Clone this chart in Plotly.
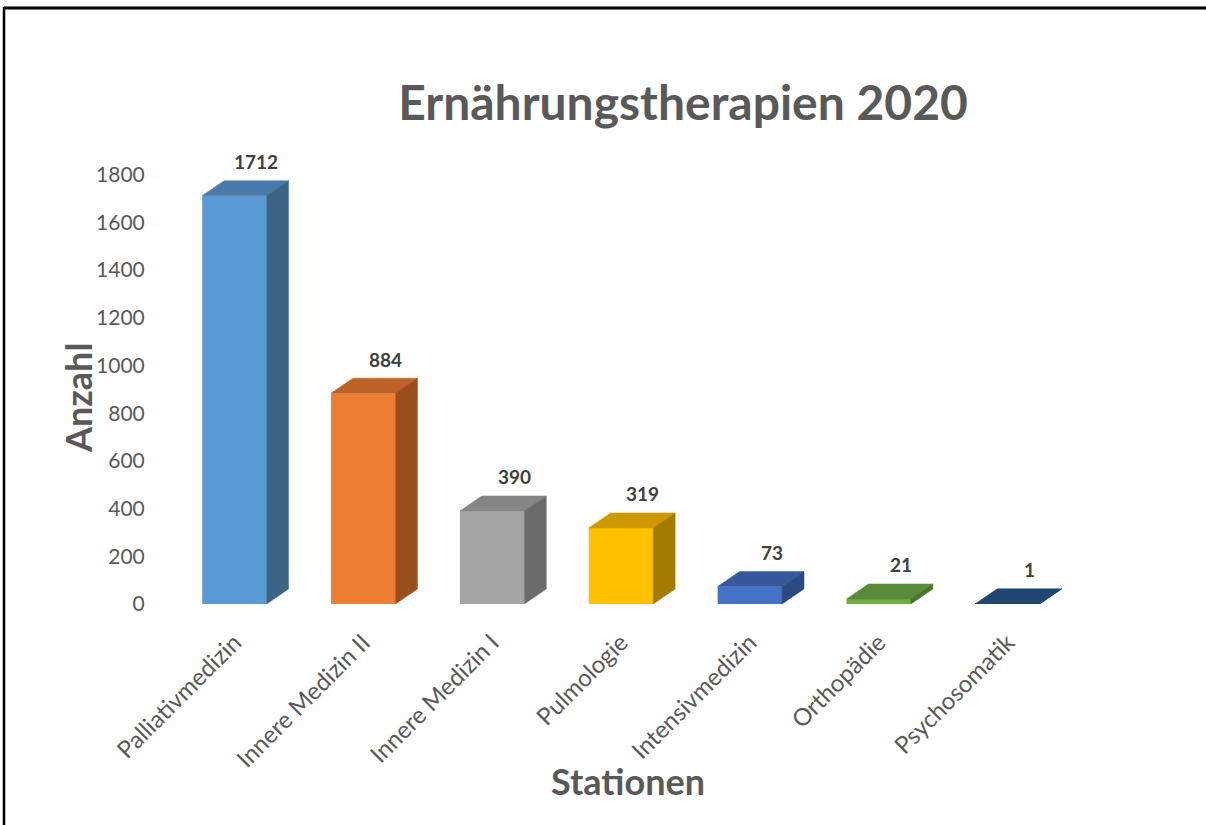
import plotly.graph_objects as go

# ---- data ----
categories = ["Palliativmedizin", "Innere Medizin II", "Innere Medizin I", "Pulmologie",
              "Intensivmedizin", "Orthopädie", "Psychosomatik"]
values = [1712, 884, 390, 319, 73, 21, 1]
y_ticks = [0, 200, 400, 600, 800, 1000, 1200, 1400, 1600, 1800]

# ---- styles ----
front_colors = ["#5B9BD5", "#ED7D31", "#A5A5A5", "#FFC000", "#4472C4", "#70AD47", "#264478"]
top_colors = ["#4A7AAB", "#BE6328", "#858585", "#CC9A00", "#36599C", "#5A8B39", "#1F4770"]
side_colors = ["#3A6587", "#9A4E1D", "#6B6B6B", "#A37B00", "#2C4A80", "#4A722F", "#1A3A5E"]

W, H = 1206, 825
ML, MR, MT, MB = 170, 134, 127, 221
Y_MAX = 2000
BAR_W = 0.5
DX = 0.17     # depth offset in category units
DY = 63       # depth offset in value units

fig = go.Figure()
xs = list(range(len(categories)))

fig.add_trace(go.Bar(
    x=xs, y=values, width=BAR_W,
    marker=dict(color=front_colors, line=dict(width=0)),
    hoverinfo="skip", showlegend=False,
))

for i, v in enumerate(values):
    x0, x1 = i - BAR_W / 2, i + BAR_W / 2
    # top face
    fig.add_trace(go.Scatter(
        x=[x0, x1, x1 + DX, x0 + DX, x0],
        y=[v, v, v + DY, v + DY, v],
        mode="lines", fill="toself", fillcolor=top_colors[i],
        line=dict(color=top_colors[i], width=0.5),
        hoverinfo="skip", showlegend=False,
    ))
    # side face
    fig.add_trace(go.Scatter(
        x=[x1, x1 + DX, x1 + DX, x1, x1],
        y=[0, DY, v + DY, v, 0],
        mode="lines", fill="toself", fillcolor=side_colors[i],
        line=dict(color=side_colors[i], width=0.5),
        hoverinfo="skip", showlegend=False,
    ))

annotations = []
for i, v in enumerate(values):
    annotations.append(dict(
        x=i + DX, y=v + DY, xref="x", yref="y", text=str(v), showarrow=False,
        yshift=19, yanchor="middle",
        font=dict(family="Lato", size=19, color="#404040", weight="bold"),
    ))

pw = W - ML - MR
ph = H - MT - MB
annotations.append(dict(
    x=(78 - ML) / pw, y=(H - MB - 398) / ph, xref="paper", yref="paper",
    text="<b>Anzahl</b>", textangle=-90, showarrow=False,
    xanchor="center", yanchor="middle",
    font=dict(family="Lato", size=36, color="#595959"),
))
annotations.append(dict(
    x=(628 - ML) / pw, y=(H - MB - 781) / ph, xref="paper", yref="paper",
    text="<b>Stationen</b>", showarrow=False,
    xanchor="center", yanchor="middle",
    font=dict(family="Lato", size=36, color="#595959"),
))

# frame lines (top and left)
shapes = [
    dict(type="line", xref="paper", yref="paper",
         x0=(4 - ML) / pw, x1=(W + 5 - ML) / pw,
         y0=(H - MB - 8) / ph, y1=(H - MB - 8) / ph,
         line=dict(color="black", width=3)),
    dict(type="line", xref="paper", yref="paper",
         x0=(4 - ML) / pw, x1=(4 - ML) / pw,
         y0=(H - MB - 7) / ph, y1=(H - MB - H - 5) / ph,
         line=dict(color="black", width=2.5)),
]

fig.update_layout(
    width=W, height=H,
    margin=dict(l=ML, r=MR, t=MT, b=MB),
    paper_bgcolor="white", plot_bgcolor="white",
    title=dict(text="<b>Ernährungstherapien 2020</b>", xref="container", yref="container",
               x=683 / W, y=1 - 103 / H, xanchor="center", yanchor="middle",
               font=dict(family="Lato", size=48, color="#595959")),
    xaxis=dict(range=[-0.5, 6.5], tickmode="array", tickvals=xs, ticktext=categories,
               tickangle=-45, showgrid=False, zeroline=False, showline=False,
               ticks="outside", ticklen=14, tickcolor="rgba(0,0,0,0)",
               tickfont=dict(family="Lato", size=24, color="#595959"), fixedrange=True),
    yaxis=dict(range=[0, Y_MAX], tickmode="array", tickvals=y_ticks,
               showgrid=False, zeroline=False, showline=False,
               ticks="outside", ticklen=20, tickcolor="rgba(0,0,0,0)",
               tickfont=dict(family="Lato", size=21, color="#595959"), fixedrange=True),
    annotations=annotations,
    shapes=shapes,
    bargap=0.5,
)

fig.write_html("out.html", config={"displayModeBar": False},
               post_script="document.body.style.margin='0';document.body.style.overflow='hidden';")
